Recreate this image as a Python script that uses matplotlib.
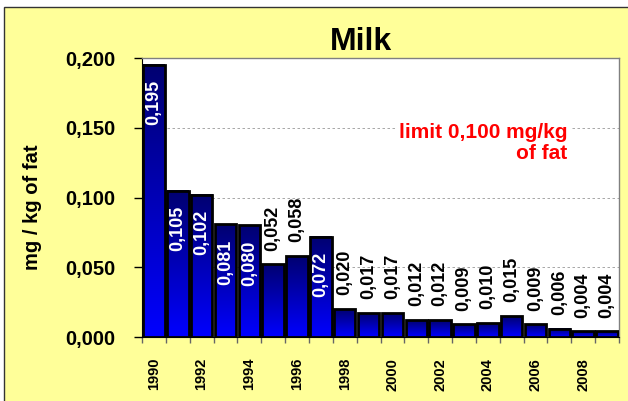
import numpy as np
import matplotlib
matplotlib.use("Agg")
import matplotlib.pyplot as plt
from matplotlib.colors import LinearSegmentedColormap
from matplotlib.patches import Rectangle

plt.rcParams['font.family'] = ['Liberation Sans', 'DejaVu Sans']
plt.rcParams['font.weight'] = 'bold'

# Residues in milk, mg per kg of fat
years = list(range(1990, 2010))
values = [0.195, 0.105, 0.102, 0.081, 0.080, 0.052, 0.058, 0.072, 0.020, 0.017,
          0.017, 0.012, 0.012, 0.009, 0.010, 0.015, 0.009, 0.006, 0.004, 0.004]
y_ticks = [0.000, 0.050, 0.100, 0.150, 0.200]
limit_text = "limit 0,100 mg/kg\nof fat"


def comma(v):
    return f"{v:.3f}".replace('.', ',')


fig = plt.figure(figsize=(6.28, 4.01), dpi=100, facecolor='white')

# yellow chart panel
fig.patches.append(Rectangle((4 / 628, -0.05), 1.1, 0.05 + (401 - 7) / 401,
                             transform=fig.transFigure, facecolor='#FFFF99',
                             edgecolor='#333333', linewidth=1.0, zorder=-5))

ax = fig.add_axes([142 / 628, 64 / 401, 477 / 628, 279 / 401])
ax.set_facecolor('white')

# vertical gradient for the bars: navy at the top, bright blue at the bottom
grad = LinearSegmentedColormap.from_list('bluegrad', ['#0000FF', '#000070'])
gimg = np.linspace(0, 1, 256).reshape(-1, 1)

width = 0.9
x = np.arange(len(years))
for xi, v in zip(x, values):
    ax.imshow(gimg, cmap=grad, origin='lower', aspect='auto',
              extent=[xi - width / 2, xi + width / 2, 0, v], zorder=2)
ax.bar(x, values, width=width, facecolor='none', edgecolor='black',
       linewidth=2, zorder=3)

for xi, v in zip(x, values):
    if v > 0.06:
        ax.annotate(comma(v), (xi, v), xytext=(0, -11), textcoords='offset points',
                    rotation=90, ha='center', va='top', color='white',
                    fontsize=13, fontweight='bold', zorder=4)
    else:
        ax.annotate(comma(v), (xi, v), xytext=(0, 10), textcoords='offset points',
                    rotation=90, ha='center', va='bottom', color='black',
                    fontsize=13, fontweight='bold', zorder=4)

ax.set_xlim(-0.5, len(years) - 0.5)
ax.set_ylim(0, 0.2)

ax.set_yticks(y_ticks)
ax.set_yticklabels([comma(t) for t in y_ticks], fontsize=14.5, fontweight='bold')
ax.tick_params(axis='y', direction='out', length=6, width=1, pad=13)

ax.set_xticks(x[::2])
ax.set_xticklabels([str(y) for y in years[::2]], rotation=90, fontsize=10.5,
                   fontweight='bold')
ax.set_xticks(np.arange(-0.5, len(years), 1), minor=True)
ax.tick_params(axis='x', which='major', length=0, pad=15)
ax.tick_params(axis='x', which='minor', direction='out', length=4, width=1,
               color='#666666')

for yv in y_ticks[1:-1]:
    ax.axhline(yv, color='#999999', linewidth=0.6, linestyle=(0, (3, 3)), zorder=1)

for side in ['top', 'right']:
    ax.spines[side].set_color('#808080')
    ax.spines[side].set_linewidth(1)
ax.spines['left'].set_color('black')
ax.spines['bottom'].set_color('black')

ax.text(0.891, 0.695, limit_text, transform=ax.transAxes, ha='right', va='center',
        multialignment='right', color='#FF0000', fontsize=15, fontweight='bold',
        linespacing=1.1,
        bbox=dict(facecolor='white', edgecolor='none', pad=2), zorder=5)

fig.text(361 / 628, 1 - 50 / 401, "Milk", ha='center', va='baseline',
         fontsize=23, fontweight='bold')
fig.text(33 / 628, 1 - 207 / 401, "mg / kg of fat", rotation=90, ha='center',
         va='center', fontsize=14.5, fontweight='bold')

fig.savefig('out.png', dpi=100, facecolor=fig.get_facecolor())
